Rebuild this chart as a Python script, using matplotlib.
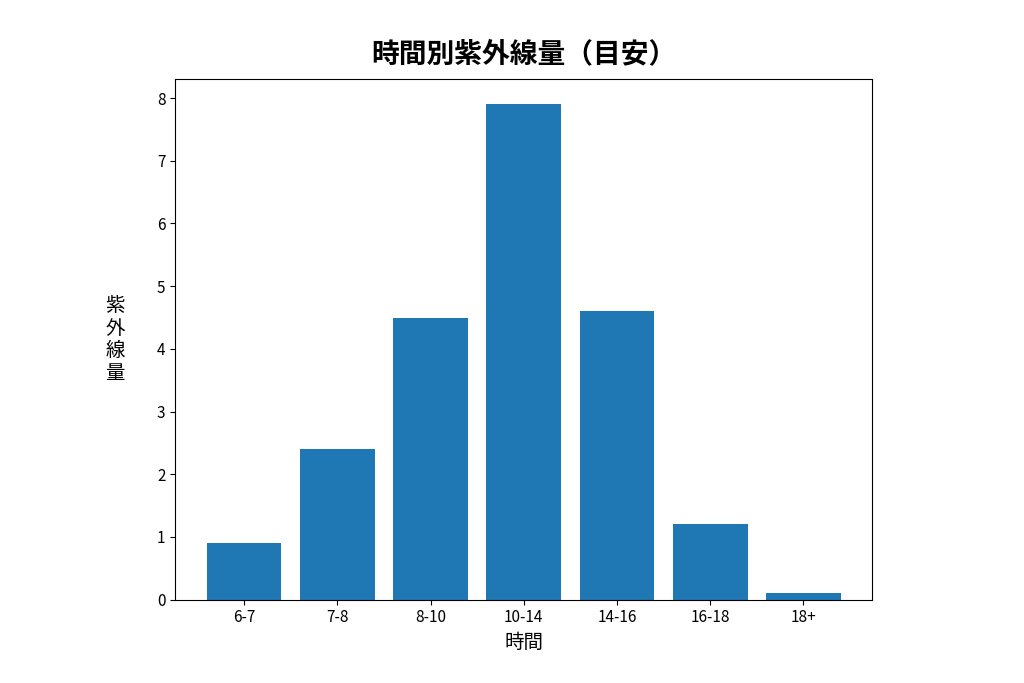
import matplotlib
matplotlib.use("Agg")
import matplotlib.pyplot as plt

plt.rcParams['font.family'] = ['Noto Sans CJK JP', 'DejaVu Sans']

categories = ["6-7", "7-8", "8-10", "10-14", "14-16", "16-18", "18+"]
values = [0.9, 2.4, 4.5, 7.9, 4.6, 1.2, 0.1]

fig = plt.figure(figsize=(10.24, 6.83), dpi=100)
ax = fig.add_axes([0.171, 0.122, 0.681, 0.762])
ax.bar(categories, values, color="#1f77b4")
ax.set_ylim(0, 8.3)
ax.set_title("時間別紫外線量（目安）", fontsize=20, fontweight="bold", pad=12)
ax.set_xlabel("時間", fontsize=14)
ax.set_ylabel("紫\n外\n線\n量", fontsize=14, rotation=0, labelpad=30, va="center", linespacing=1.1)
ax.tick_params(labelsize=11)
fig.savefig("out.png", dpi=100)
